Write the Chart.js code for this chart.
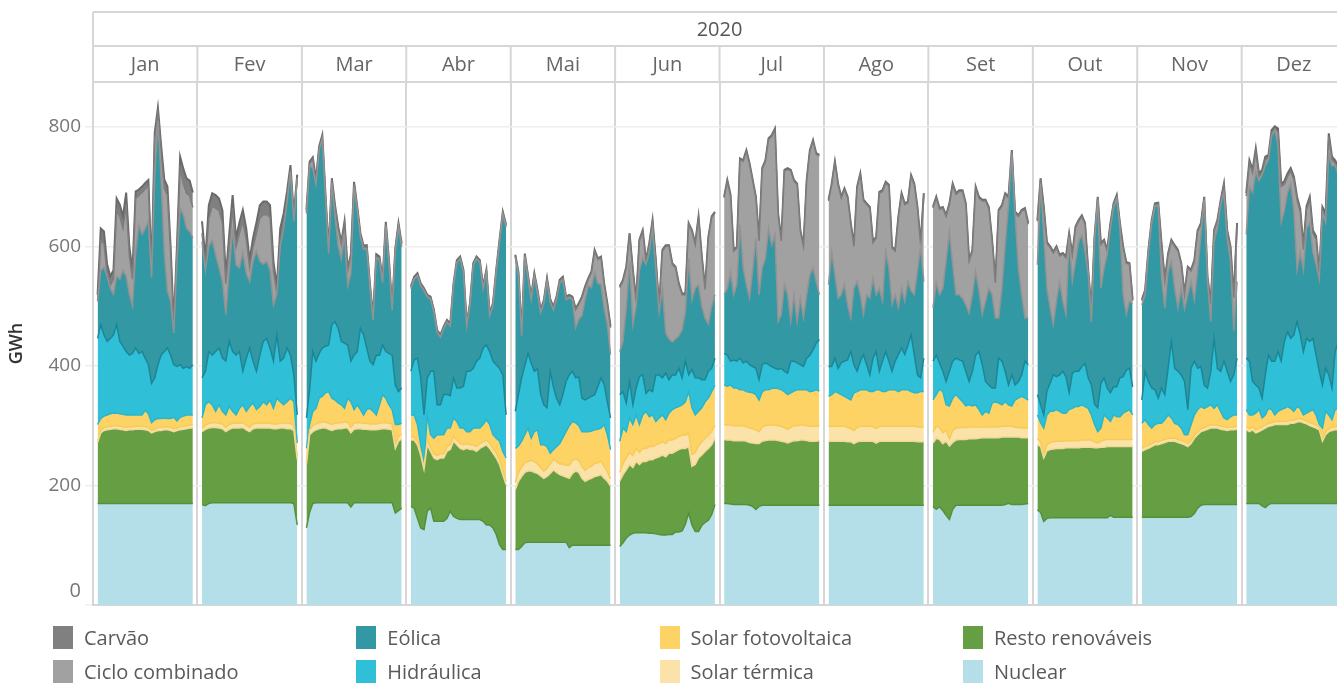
<!DOCTYPE html>
<html>
<head>
<meta charset="utf-8">
<script src="https://cdn.jsdelivr.net/npm/chart.js@4.4.0/dist/chart.umd.min.js"></script>
<style>
  body { margin: 0; background: #fff; overflow: hidden; font-family: "Open Sans", sans-serif; }
  #wrap { position: relative; width: 1337px; height: 686px; }
  #chart { position: absolute; left: 0; top: 0; }
  .item { position: absolute; display: flex; align-items: center; height: 23px; font-size: 20px; color: #5a5a5a; white-space: nowrap; }
  .sw { width: 20px; height: 23px; margin-right: 11px; }
</style>
</head>
<body>
<div id="wrap">
  <canvas id="chart" width="1337" height="686"></canvas>
  <div id="legend"></div>
</div>
<script>
// 2020, daily generation (GWh) by technology, one line per month
const year = '2020';
const months = ['Jan', 'Fev', 'Mar', 'Abr', 'Mai', 'Jun', 'Jul', 'Ago', 'Set', 'Out', 'Nov', 'Dez'];
const daysInMonth = [31, 29, 31, 30, 31, 30, 31, 31, 30, 31, 30, 31];
const yTicks = [0, 200, 400, 600, 800];

const nuclear = [
  170,170,170,170,170,170,170,170,170,170,170,170,170,170,170,170,170,170,170,170,170,170,170,170,170,170,170,170,170,170,170,
  168,166,170,171,171,171,171,171,171,171,171,171,171,171,171,171,171,171,171,171,171,171,171,171,171,171,171,170,134,
  129,155,170,171,171,171,171,171,171,171,171,171,171,171,164,171,171,171,171,171,171,171,171,171,171,171,171,171,154,158,162,
  165,162,145,129,126,157,162,140,140,140,140,145,157,148,145,143,143,143,143,143,143,143,140,134,134,129,118,101,93,93,
  93,93,98,104,105,105,105,105,105,105,105,105,105,105,105,105,105,96,100,100,100,100,100,100,100,100,100,100,100,100,100,
  98,104,112,117,120,121,121,121,121,120,120,119,118,117,117,118,118,122,122,124,135,154,134,123,123,133,138,142,151,168,
  170,170,169,168,168,168,168,168,167,165,160,165,167,167,167,167,167,167,167,167,167,167,167,167,167,167,167,167,167,167,167,
  167,167,167,167,167,167,167,167,167,167,167,167,167,167,167,167,167,167,167,167,167,167,167,167,167,167,167,167,167,167,167,
  165,160,164,158,150,143,160,167,167,167,167,167,167,167,167,167,167,167,167,167,167,167,168,170,168,168,168,168,169,170,
  159,155,140,145,146,146,146,146,146,146,146,146,146,146,146,146,146,146,146,146,146,146,146,150,147,147,147,147,147,147,147,
  147,147,147,147,147,147,147,147,147,147,147,147,147,147,147,148,153,162,167,168,168,168,168,168,168,168,168,168,168,168,
  170,170,170,170,170,166,163,168,170,170,170,170,170,170,170,170,170,170,170,170,170,170,170,170,170,170,170,170,170,170,170
];
const resto = [
  102,118,122,123,124,125,125,124,123,122,123,123,124,124,124,123,122,118,120,122,122,123,123,122,120,122,123,124,125,126,126,
  122,128,126,126,126,125,124,119,123,125,125,125,126,122,119,124,125,125,125,125,125,124,124,125,125,124,124,122,109,
  106,130,120,122,124,125,125,123,121,123,124,124,125,125,124,123,124,124,123,123,122,122,122,123,124,124,123,122,108,116,116,
  111,114,123,122,101,111,95,106,103,106,106,112,103,126,123,119,117,119,117,117,114,119,125,134,128,125,128,134,125,108,
  100,114,117,118,119,119,117,115,111,107,110,115,121,117,113,111,109,116,120,124,122,112,107,110,112,115,116,118,112,107,99,
  109,114,114,118,110,119,114,119,119,123,123,127,130,134,131,136,136,135,138,138,127,111,98,112,123,118,119,120,117,111,
  107,106,107,107,107,107,107,106,105,106,110,105,107,108,109,109,109,108,107,106,104,106,108,108,109,109,108,107,107,107,108,
  107,107,107,107,107,107,106,106,103,106,107,107,107,107,107,104,107,107,107,107,107,107,107,107,107,107,107,107,106,106,106,
  106,119,113,112,124,123,112,109,110,110,110,111,111,111,112,113,113,113,113,113,113,114,113,111,113,113,113,112,111,110,
  109,110,106,113,114,115,116,116,116,117,117,117,117,117,118,118,118,118,117,117,118,118,119,115,118,118,118,118,118,118,118,
  110,113,115,118,121,121,123,125,127,127,127,125,123,121,118,122,126,123,123,124,126,128,128,128,126,125,124,125,125,126,
  123,120,123,118,120,127,133,131,130,132,132,132,132,132,134,134,136,137,135,133,130,128,126,123,104,115,120,122,123,123,123
];
const solarTermica = [
  3,4,5,5,5,5,5,5,5,5,5,5,5,5,5,5,5,4,4,5,5,5,5,5,5,4,5,5,5,5,5,
  6,7,8,8,8,8,8,7,8,8,8,8,8,8,7,8,8,8,8,8,8,8,8,8,9,9,9,8,5,
  5,8,10,10,10,10,10,10,10,10,10,10,10,10,9,10,10,10,10,10,10,10,10,10,10,10,10,10,8,8,8,
  5,5,5,5,3,8,7,7,7,7,7,8,8,8,8,8,8,8,8,8,8,8,8,8,8,8,8,8,7,6,
  12,14,16,16,16,18,18,16,14,12,14,16,18,18,18,20,20,22,22,20,20,20,18,20,20,22,22,22,20,16,12,
  15,18,20,20,20,22,20,22,22,22,22,22,22,22,22,22,22,22,22,22,22,22,20,20,20,22,22,22,22,22,
  25,25,25,25,25,25,25,24,24,24,23,20,24,25,25,25,25,25,25,24,23,24,25,25,25,25,25,25,25,25,25,
  25,25,25,25,25,25,24,22,22,24,25,25,25,25,24,24,25,25,25,25,25,25,25,25,25,25,25,25,25,25,25,
  18,20,20,18,18,12,20,20,20,20,20,20,20,20,18,18,18,18,18,18,18,18,18,18,18,16,16,16,16,16,
  10,8,6,10,12,12,12,12,12,12,12,12,12,12,12,12,12,12,10,8,10,12,12,12,12,12,12,12,12,12,12,
  5,5,5,5,5,5,5,5,5,5,5,5,5,5,5,5,5,5,5,5,5,5,5,5,5,5,5,5,5,5,
  5,5,5,5,5,5,5,5,5,5,5,5,5,5,5,5,5,5,5,5,5,5,5,5,3,5,5,5,5,5,5
];
const solarFotovoltaica = [
  27,20,19,20,21,21,21,21,21,21,20,20,19,19,19,28,23,13,16,15,15,15,14,15,19,12,16,17,18,17,17,
  17,34,36,30,19,31,21,21,30,20,14,25,30,23,35,35,23,28,36,31,39,26,43,36,30,36,42,40,23,
  22,9,24,26,41,43,49,53,44,39,33,30,23,40,43,23,30,22,14,23,26,21,15,31,47,41,31,24,32,20,18,
  37,37,29,12,5,42,21,26,35,32,32,31,28,31,31,26,28,20,22,28,31,26,29,34,32,23,25,31,32,39,
  57,45,43,47,56,37,50,57,38,44,36,18,16,25,34,44,56,66,65,61,58,58,65,60,59,56,56,56,70,62,49,
  52,60,44,58,52,56,47,56,62,50,53,39,43,45,40,45,51,51,50,51,56,70,78,63,58,57,61,62,67,67,
  66,65,67,63,63,60,60,59,60,60,59,53,59,60,59,61,62,62,61,60,58,58,58,60,59,59,60,58,59,61,58,
  50,53,58,56,53,50,49,48,63,60,61,61,61,58,59,65,61,58,58,61,61,61,58,61,61,61,58,56,57,59,59,
  54,53,64,69,43,55,54,56,49,43,36,37,35,37,30,20,26,23,40,42,40,36,41,36,34,46,49,53,50,47,
  40,32,44,50,52,51,53,50,47,46,52,54,57,57,59,56,53,42,29,19,22,42,36,30,41,38,38,44,47,50,41,
  42,45,35,26,29,31,29,33,39,34,25,25,21,12,15,27,34,37,37,32,33,34,28,34,25,15,13,17,20,19,
  29,23,20,28,32,15,17,25,22,11,17,20,22,25,20,15,21,17,8,13,19,24,17,4,19,34,23,13,29,31,29
];
const hidraulica = [
  144,157,136,123,126,131,148,121,114,106,100,103,112,103,106,87,82,66,70,90,106,111,118,106,88,91,88,80,81,78,84,
  67,56,84,83,100,95,89,90,109,100,100,95,56,89,98,70,64,86,101,111,87,79,106,68,78,90,72,45,47,
  51,58,100,79,75,81,78,78,123,131,125,106,109,89,68,91,89,136,134,103,79,78,100,83,83,78,86,91,66,55,59,
  73,92,111,112,83,62,106,112,50,50,67,56,54,67,56,67,70,101,101,100,112,117,128,125,122,123,123,122,128,72,
  62,86,106,115,125,126,101,102,84,67,65,137,105,81,65,72,84,85,84,75,82,56,53,56,58,59,71,84,67,55,53,
  78,61,48,61,33,45,80,67,30,45,39,78,72,62,78,56,58,55,64,45,68,28,64,62,56,47,37,45,39,45,
  53,52,40,47,45,53,45,51,46,44,44,34,45,45,42,37,33,32,36,34,36,53,50,45,42,39,53,61,69,78,86,
  50,47,56,41,53,59,64,81,47,34,48,59,42,28,56,64,31,51,67,48,31,48,62,70,59,75,95,64,30,23,56,
  65,66,44,34,39,58,62,61,64,68,58,39,58,83,97,84,50,47,25,23,75,73,51,33,52,25,28,36,62,59,
  34,30,22,40,47,61,55,61,70,61,28,59,59,59,64,72,51,50,34,40,75,62,50,48,47,50,65,61,69,69,47,
  39,81,72,67,58,42,59,42,78,128,92,89,89,89,42,94,90,69,67,39,31,56,117,61,67,95,81,59,67,95,
  86,90,56,47,36,33,67,89,81,90,100,81,112,125,117,128,142,123,106,125,117,119,100,89,72,72,67,53,97,112,103
];
const eolica = [
  62,91,113,109,84,68,81,104,127,126,102,79,160,215,196,217,240,177,340,408,296,166,95,90,53,176,262,257,231,229,212,
  228,169,176,192,162,134,128,78,117,206,151,140,199,142,111,167,201,157,129,129,130,94,68,192,217,245,307,257,396,
  342,375,307,296,340,350,248,153,237,177,137,138,181,99,146,282,237,153,143,166,123,75,163,159,104,211,150,75,223,276,236,
  138,135,138,154,208,135,121,99,121,113,110,121,117,154,210,216,191,76,110,172,171,160,99,122,60,93,155,211,269,314,
  257,200,70,183,126,106,159,127,137,170,212,116,129,165,204,192,137,129,120,84,96,138,168,189,182,205,173,156,127,129,106,
  72,84,159,201,134,137,178,195,216,230,273,175,105,150,67,68,55,60,54,80,82,195,116,150,155,123,103,79,104,106,
  98,112,148,109,128,223,159,128,111,161,218,142,162,175,228,203,223,80,90,145,131,66,111,69,111,81,106,134,137,103,75,
  137,192,139,117,114,128,92,56,128,150,111,67,117,128,134,95,139,100,167,156,111,111,78,100,89,106,73,100,173,220,128,
  89,121,114,139,201,234,161,106,109,105,111,114,128,140,101,84,134,162,156,117,67,122,212,301,370,285,190,134,72,78,
  217,370,301,172,126,84,126,156,117,104,260,153,184,217,220,187,175,106,274,348,159,184,223,275,300,315,250,137,93,112,140,
  159,128,215,276,307,322,184,145,162,134,134,106,145,121,192,145,102,164,221,310,178,83,162,234,279,282,221,201,73,128,
  207,292,316,357,347,374,350,327,377,387,346,232,219,233,259,208,86,138,136,184,199,144,152,154,287,244,370,372,311,279,270
];
const cicloCombinado = [
  1,50,40,5,5,25,110,105,70,120,65,45,90,49,70,66,59,4,60,14,46,107,160,82,10,15,66,52,59,60,51,
  14,5,47,57,78,96,99,52,44,34,30,58,51,57,24,24,30,72,83,78,89,58,1,12,5,5,3,3,1,
  3,4,15,5,3,3,3,3,5,15,30,25,20,25,30,5,3,3,3,3,3,3,3,3,3,3,3,3,3,3,3,
  2,2,2,2,2,2,2,2,2,2,2,2,2,2,2,2,2,2,2,2,2,2,2,2,2,2,2,2,2,2,
  3,3,3,3,3,3,3,3,3,3,3,3,3,3,3,3,3,3,3,30,25,30,20,10,25,35,40,45,40,34,45,
  107,101,67,45,90,8,49,45,5,13,12,15,7,62,145,155,130,119,86,59,29,57,115,73,113,81,48,144,148,137,
  162,179,129,73,61,109,178,223,224,149,67,90,165,162,149,182,176,179,123,190,210,252,190,229,112,120,190,207,212,213,232,
  140,112,188,190,162,159,179,157,70,157,201,190,151,151,59,95,159,184,115,137,95,73,151,157,162,132,192,184,106,3,146,
  167,142,143,134,75,45,134,168,173,179,168,87,73,140,156,190,168,134,90,59,179,137,84,12,4,3,86,140,182,157,
  73,7,45,75,101,120,90,43,79,95,5,44,56,34,31,46,4,18,4,3,73,45,6,7,5,4,7,79,86,62,4,
  7,6,3,3,3,3,56,45,28,34,70,95,40,24,45,18,65,65,17,3,6,29,17,12,5,13,13,23,56,96,
  64,39,33,34,7,3,10,3,5,1,22,60,44,27,21,52,118,68,35,32,38,32,42,5,6,10,29,10,4,8,12
];
const carvao = [
  10,20,20,15,15,15,20,20,20,20,15,15,12,10,10,10,10,8,10,8,10,15,15,10,5,10,20,25,25,25,25,
  20,15,22,22,22,20,20,12,18,22,15,18,20,18,12,15,18,22,22,22,20,15,12,18,20,12,8,8,5,
  3,3,3,3,3,3,3,3,3,3,3,3,3,3,3,3,3,3,3,3,3,3,3,3,3,3,3,3,3,3,3,
  2,2,2,2,2,2,2,2,2,2,2,2,2,2,2,2,2,2,2,2,2,2,2,2,2,2,2,2,2,2,
  2,2,2,2,2,2,2,2,2,2,2,2,2,2,2,2,2,2,2,2,2,2,2,2,2,2,2,2,2,2,2,
  2,2,2,2,2,2,2,2,2,2,2,2,2,2,2,2,2,2,2,2,2,2,2,2,2,2,2,2,2,2,
  2,2,2,2,2,2,2,2,2,2,2,2,2,2,2,2,2,2,2,2,2,2,2,2,2,2,2,2,2,2,2,
  2,2,2,2,2,2,2,2,2,2,2,2,2,2,2,2,2,2,2,2,2,2,2,2,2,2,2,2,2,2,2,
  2,2,2,2,2,2,2,2,2,2,2,2,2,2,2,2,2,2,2,2,2,2,2,2,2,2,2,2,2,2,
  2,2,2,2,2,2,2,2,2,2,2,2,2,2,2,2,2,2,2,2,2,2,2,2,2,2,2,2,2,2,2,
  2,2,2,2,2,2,2,2,2,2,2,2,2,2,2,2,2,2,2,2,2,2,2,2,2,2,2,2,2,2,
  5,5,5,5,5,5,5,5,5,5,5,5,5,5,5,5,5,5,5,5,5,5,5,5,5,5,5,5,5,5,5
];

// stacking order, bottom to top; fill colour and the edge line drawn on its top
const series = [
  { label: 'Nuclear', data: nuclear, fill: '#b4dfe9', edge: '#52913a' },
  { label: 'Resto renováveis', data: resto, fill: '#669e44', edge: '#f3d998' },
  { label: 'Solar térmica', data: solarTermica, fill: '#fbe2a8', edge: '#f7cb58' },
  { label: 'Solar fotovoltaica', data: solarFotovoltaica, fill: '#fdd366', edge: '#27b6cd' },
  { label: 'Hidráulica', data: hidraulica, fill: '#2fbfd7', edge: '#1b8796' },
  { label: 'Eólica', data: eolica, fill: '#3198a4', edge: '#939393' },
  { label: 'Ciclo combinado', data: cicloCombinado, fill: '#a1a1a1', edge: '#7d7d7d' },
  { label: 'Carvão', data: carvao, fill: '#808080', edge: '#6a6a6a' }
];

const totalDays = daysInMonth.reduce((a, b) => a + b, 0);
series.forEach(s => {
  if (s.data.length !== totalDays) throw new Error(s.label + ' has ' + s.data.length + ' values');
});

// each month gets one unit of x, days spread inside it with a small margin
const pad = 0.044;
function toPoints(values) {
  const pts = [];
  let k = 0;
  daysInMonth.forEach((n, m) => {
    for (let d = 0; d < n; d++) {
      pts.push({ x: m + pad + (1 - 2 * pad) * d / (n - 1), y: values[k++] });
    }
    pts.push({ x: m + 1, y: null });
  });
  return pts;
}

const datasets = series.map((s, i) => ({
  label: s.label,
  data: toPoints(s.data),
  backgroundColor: s.fill,
  borderColor: s.edge,
  borderWidth: i === 7 ? 2 : 1.5,
  fill: i === 0 ? 'origin' : '-1',
  pointRadius: 0,
  tension: 0,
  spanGaps: false
}));

const gridGrey = '#d6d6d6';
const fontFamily = '"Open Sans", sans-serif';

// Tableau-like header: year row and month row above the panels
const headerPlugin = {
  id: 'header',
  afterDraw(chart) {
    const { ctx, chartArea } = chart;
    const x = chart.scales.x;
    const y = chart.scales.y;
    const top = 12, mid = 46, bottom = chartArea.top;
    const left = chartArea.left, right = x.getPixelForValue(months.length);
    ctx.save();
    ctx.strokeStyle = gridGrey;
    ctx.lineWidth = 2;
    ctx.beginPath();
    [top, mid, bottom].forEach(yy => { ctx.moveTo(left, yy); ctx.lineTo(right, yy); });
    ctx.moveTo(left, top); ctx.lineTo(left, bottom);
    ctx.moveTo(right, top); ctx.lineTo(right, bottom);
    for (let m = 1; m < months.length; m++) {
      const px = x.getPixelForValue(m);
      ctx.moveTo(px, mid); ctx.lineTo(px, bottom);
    }
    ctx.stroke();

    ctx.font = '20px ' + fontFamily;
    ctx.textAlign = 'center';
    ctx.textBaseline = 'middle';
    ctx.fillStyle = '#555';
    ctx.fillText(year, x.getPixelForValue(months.length / 2), (top + mid) / 2 + 1);
    ctx.fillStyle = '#666';
    months.forEach((name, m) => {
      ctx.fillText(name, x.getPixelForValue(m + 0.5), (mid + bottom) / 2 + 1);
    });

    // bottom tick label sits above the baseline, as in the original
    ctx.fillStyle = '#777';
    ctx.textAlign = 'right';
    ctx.fillText('0', chartArea.left - 12, y.getPixelForValue(0) - 14);
    ctx.restore();
  }
};

new Chart(document.getElementById('chart'), {
  type: 'line',
  data: { datasets },
  options: {
    responsive: false,
    animation: false,
    events: [],
    layout: { padding: { top: 82, bottom: 81, left: 0, right: 0 } },
    plugins: {
      legend: { display: false },
      tooltip: { enabled: false }
    },
    scales: {
      x: {
        type: 'linear',
        min: 0,
        max: 11.913,
        afterBuildTicks: s => { s.ticks = months.slice(1).map((_, i) => ({ value: i + 1 })); },
        afterFit: s => { s.height = 0; },
        ticks: { display: false },
        grid: { color: gridGrey, lineWidth: 2, drawTicks: false },
        border: { color: gridGrey, width: 2 }
      },
      y: {
        stacked: true,
        min: 0,
        max: 875,
        afterBuildTicks: s => { s.ticks = yTicks.map(v => ({ value: v })); },
        afterFit: s => { s.width = 93; },
        ticks: {
          color: '#777',
          padding: 4,
          font: { family: fontFamily, size: 19 },
          callback: v => (v === 0 ? '' : v)
        },
        grid: { color: '#eeeeee', lineWidth: 1.5, tickLength: 8 },
        border: { color: gridGrey, width: 2 },
        title: {
          display: true,
          text: 'GWh',
          color: '#333',
          font: { family: fontFamily, size: 18, weight: '600' },
          padding: { top: 6, bottom: 0 }
        }
      }
    }
  },
  plugins: [headerPlugin]
});

// legend: 4 columns x 2 rows, column-major as in the original
const legendColumns = [
  ['Carvão', 'Ciclo combinado'],
  ['Eólica', 'Hidráulica'],
  ['Solar fotovoltaica', 'Solar térmica'],
  ['Resto renováveis', 'Nuclear']
];
const legendEl = document.getElementById('legend');
legendColumns.forEach((col, c) => {
  col.forEach((label, r) => {
    const s = series.find(item => item.label === label);
    const div = document.createElement('div');
    div.className = 'item';
    div.style.left = (53 + c * 303.3) + 'px';
    div.style.top = (626 + r * 34) + 'px';
    div.innerHTML = '<span class="sw" style="background:' + s.fill + '"></span><span>' + label + '</span>';
    legendEl.appendChild(div);
  });
});
</script>
</body>
</html>
